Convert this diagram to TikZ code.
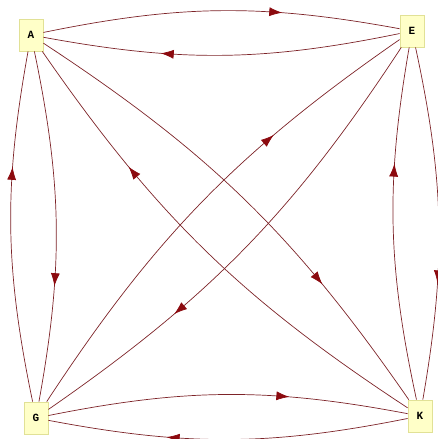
\documentclass[tikz,border=0pt]{standalone}
\usepackage{fontspec}
\setmonofont{Liberation Mono}
\usetikzlibrary{arrows.meta,decorations.markings}
\definecolor{edgecol}{RGB}{125,35,40}
\definecolor{tipcol}{RGB}{140,10,15}
\definecolor{boxfill}{RGB}{255,255,200}
\definecolor{boxline}{RGB}{225,225,150}
\tikzset{
  vbox/.style={draw=boxline, fill=boxfill, line width=0.8pt, minimum width=24pt, minimum height=32pt, inner sep=0pt, font=\ttfamily\bfseries\fontsize{11}{13}\selectfont},
  link/.style={draw=edgecol, line width=0.7pt, bend left=11,
    decoration={markings, mark=at position #1 with {\arrow[tipcol]{Latex[length=13pt,width=9pt]}}},
    postaction={decorate}},
  link/.default=0.67
}
\begin{document}
\begin{tikzpicture}[x=1pt,y=1pt]
\useasboundingbox (0,0) rectangle (437,-439);
\node[vbox] (A) at (31,-35) {A};
\node[vbox] (E) at (412,-31) {E};
\node[vbox] (G) at (36,-418) {G};
\node[vbox] (K) at (420,-416) {K};
\draw[link] (A) to (E);
\draw[link] (E) to (A);
\draw[link] (A) to (G);
\draw[link] (G) to (A);
\draw[link] (G) to (K);
\draw[link] (K) to (G);
\draw[link] (K) to (E);
\draw[link] (E) to (K);
\draw[link=0.72] (A) to (K);
\draw[link=0.72] (K) to (A);
\draw[link=0.69] (G) to (E);
\draw[link=0.69] (E) to (G);
\end{tikzpicture}
\end{document}
